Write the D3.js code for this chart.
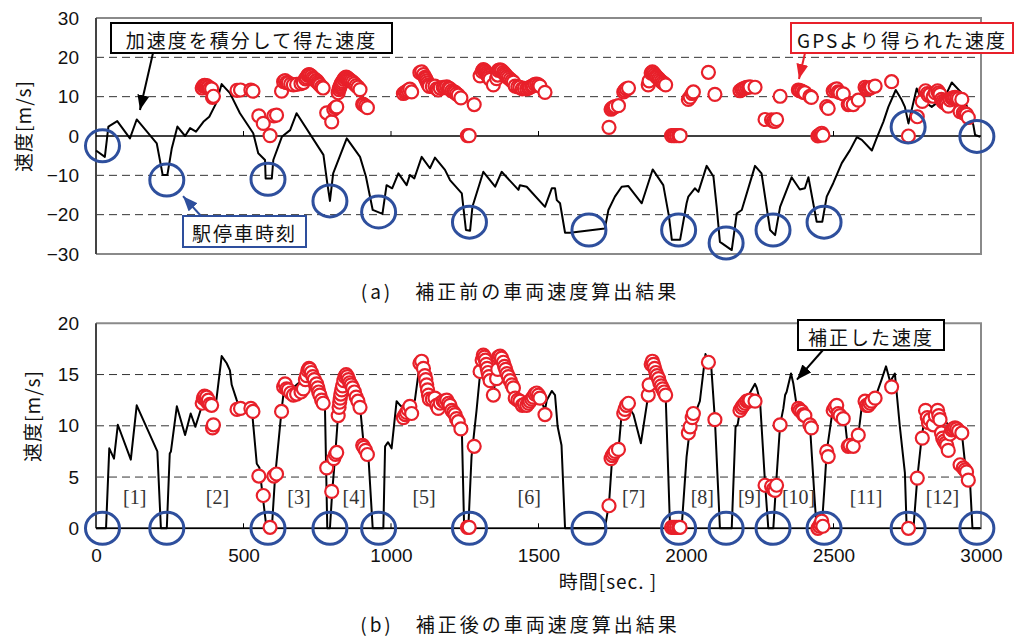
<!DOCTYPE html>
<html>
<head>
<meta charset="utf-8">
<script src="https://cdn.jsdelivr.net/npm/d3@7"></script>
<style>
  body { margin: 0; background: #fff; }
  svg { display: block; }
</style>
</head>
<body>
<div id="chart"></div>
<script>
// --- data ---
const timeTicks = [0, 500, 1000, 1500, 2000, 2500, 3000];
const speedTicksA = [-30, -20, -10, 0, 10, 20, 30];
const speedTicksB = [0, 5, 10, 15, 20];

// (a) speed obtained by integrating acceleration [t sec, v m/s]
const integratedSpeed = [
  [0,-3.7],[30,-5.3],[42,2.4],[72,3.8],[115,-0.6],[138,4.2],[206,-1.9],[226,-9.9],[242,-9.9],[257,-3.1],
  [276,2.4],[302,0],[319,2.0],[339,1.1],[364,3.6],[384,4.9],[407,8.3],[426,13.2],[454,10.9],[488,5.8],
  [533,0.7],[550,-4.4],[573,-6.1],[575,-10.8],[596,-10.8],[601,-6.1],[630,-0.2],[658,1.5],[680,5.8],[771,-4.8],
  [784,-12.0],[793,-16.5],[804,-9.5],[850,-0.6],[895,-5.3],[915,-10.3],[938,-18.8],[971,-19.8],[985,-12.5],[1004,-13.3],
  [1025,-9.5],[1053,-12.5],[1064,-9.9],[1079,-10.8],[1104,-5.3],[1132,-8.2],[1149,-5.5],[1183,-8.6],[1200,-11.2],[1240,-14.6],
  [1254,-23.9],[1268,-24.1],[1276,-18.0],[1313,-9.1],[1353,-12.9],[1375,-9.1],[1432,-13.7],[1437,-12.5],[1460,-12.9],[1522,-18.0],
  [1545,-13.3],[1556,-13.3],[1562,-16.3],[1573,-17.1],[1590,-24.6],[1607,-24.6],[1725,-23.5],[1737,-18.8],[1759,-15.4],[1782,-12.9],
  [1804,-12.7],[1850,-17.1],[1887,-8.5],[1923,-12.5],[1942,-20.3],[1952,-26.4],[1980,-26.4],[2002,-17.1],[2008,-15.4],[2030,-13.3],
  [2042,-14.2],[2070,-7.6],[2093,-10.3],[2104,-18.0],[2115,-26.9],[2155,-29.0],[2166,-23.1],[2172,-19.7],[2189,-18.8],[2234,-7.6],
  [2256,-9.5],[2285,-23.9],[2302,-25.2],[2319,-18.0],[2358,-10.5],[2386,-13.6],[2403,-13.3],[2415,-10.5],[2443,-21.8],[2462,-21.8],
  [2477,-15.4],[2499,-12.0],[2528,-6.9],[2556,-3.6],[2579,-0.3],[2596,-1.0],[2630,-3.7],[2646,-0.6],[2669,3.6],[2686,7.4],
  [2711,11.7],[2731,9.2],[2742,7.4],[2754,3.2],[2782,12.1],[2799,9.2],[2833,7.4],[2878,10.0],[2901,13.6],[2935,10.9],
  [2957,6.6],[2974,2.8],[2980,0.25],[2997,-0.2]
];

// (b) corrected speed
const correctedSpeed = [
  [0,0],[34,0],[45,7.8],[61,6.8],[74,10.1],[118,6.7],[138,12.0],[208,7.5],[220,0],[240,0],
  [250,7.3],[254,7.5],[274,11.9],[302,9.1],[321,11.2],[337,9.9],[353,11.4],[370,12.6],[395,12.0],[408,12.5],
  [426,16.8],[443,16.1],[454,15.4],[460,14.0],[477,12.5],[488,11.7],[528,11.7],[545,6.3],[554,5.9],[578,0],
  [596,0],[607,5.0],[629,11.5],[635,13.0],[680,14.0],[725,15.1],[750,14.0],[776,12.0],[784,0],[793,0],
  [801,3.7],[810,6.8],[821,11.2],[838,14.8],[855,14.5],[872,13.7],[895,11.9],[908,8.0],[923,7.2],[938,0],
  [974,0],[980,8.0],[990,8.4],[1002,7.8],[1019,12.4],[1031,12.0],[1050,11.5],[1081,12.5],[1093,15.1],[1098,16.1],
  [1115,14.6],[1130,12.8],[1160,11.9],[1200,12.0],[1228,10.5],[1240,9.8],[1248,0],[1262,0],[1273,7.0],[1290,11.5],
  [1302,15.1],[1307,16.9],[1330,15.5],[1347,13.0],[1364,16.7],[1390,15.3],[1415,13.8],[1437,12.4],[1460,12.0],[1482,12.8],
  [1505,12.8],[1522,11.5],[1528,12.5],[1545,13.4],[1556,13.0],[1565,9.9],[1578,8.1],[1590,0],[1725,0],[1739,2.4],
  [1750,7.0],[1771,7.6],[1782,11.2],[1793,12.4],[1822,11.1],[1847,8.3],[1872,13.0],[1884,16.2],[1900,15.5],[1920,14.0],
  [1931,13.0],[1946,0],[1985,0],[2002,7.0],[2014,9.9],[2031,11.2],[2047,12.4],[2066,17.0],[2086,15.6],[2098,10.6],
  [2115,0],[2155,0],[2168,9.9],[2175,10.1],[2183,11.5],[2234,14.1],[2240,13.7],[2251,12.4],[2268,4.4],[2279,0],
  [2296,0],[2304,3.7],[2319,10.1],[2330,11.7],[2336,13.0],[2341,13.3],[2356,15.1],[2364,14.1],[2375,12.0],[2420,10.1],
  [2437,2.4],[2443,0],[2460,0],[2471,4.7],[2477,7.5],[2494,10.9],[2505,11.8],[2539,10.4],[2547,8.3],[2567,8.1],
  [2584,9.1],[2596,11.9],[2641,12.7],[2663,14.5],[2678,15.8],[2692,14.3],[2708,15.1],[2725,9.9],[2742,5.4],[2748,0],
  [2771,0],[2784,4.9],[2799,8.9],[2808,10.6],[2853,11.5],[2901,9.6],[2935,9.3],[2946,6.3],[2963,4.4],[2971,0],[2997,0]
];

// GPS speed (same points in both panels)
const gpsSpeed = [
  [360,12.2],[364,12.7],[368,12.9],[372,12.6],[375,12.8],[378,12.3],[381,12.5],[386,12.1],[392,12.0],[395,9.8],[398,10.1],
  [478,11.6],[490,11.7],[525,11.7],[532,11.4],[552,5.1],[567,3.2],[590,0.1],[603,5.1],[612,5.3],
  [629,11.4],[636,13.8],[641,14.1],[646,13.6],[652,13.5],[660,13.2],[669,13.0],[680,13.1],[695,13.3],[703,13.6],
  [710,14.5],[714,14.9],[718,15.4],[722,15.6],[725,15.5],[730,15.2],[735,14.8],[740,14.5],[745,14.0],[748,14.1],
  [752,13.7],[755,13.3],[759,13.0],[765,12.5],[770,12.2],[782,5.9],[799,3.6],[806,6.8],[812,7.2],[816,7.4],
  [821,11.0],[824,11.8],[826,12.3],[828,12.7],[830,13.1],[833,13.5],[836,13.9],[840,14.4],[844,14.8],[848,15.0],
  [852,14.8],[856,14.5],[860,14.2],[865,14.0],[870,13.7],[876,13.3],[882,12.8],[888,12.4],[895,11.8],[904,8.1],
  [908,7.9],[914,7.6],[920,7.2],
  [1042,10.8],[1048,11.1],[1053,11.3],[1058,11.6],[1064,11.9],[1070,11.2],[1098,16.1],[1104,16.3],[1110,15.6],[1115,14.9],
  [1118,14.5],[1121,14.0],[1124,13.5],[1127,13.0],[1130,12.6],[1140,12.6],[1149,12.7],[1155,12.0],[1160,11.7],[1167,12.2],
  [1177,12.4],[1183,12.3],[1189,12.5],[1195,12.2],[1200,12.0],[1206,11.5],[1212,11.3],[1217,11.1],[1222,10.7],[1228,10.4],
  [1237,9.7],[1259,0.1],[1265,0.1],[1282,8.0],
  [1302,15.3],[1309,16.4],[1313,16.9],[1317,16.7],[1320,16.4],[1323,16.0],[1326,15.6],[1329,15.2],[1332,14.8],[1336,14.4],
  [1347,13.0],[1358,14.6],[1362,15.5],[1364,16.7],[1370,16.8],[1375,16.6],[1381,16.2],[1385,15.8],[1389,15.5],[1393,15.1],
  [1398,14.8],[1404,14.4],[1410,14.0],[1415,13.7],[1421,12.7],[1430,12.5],[1437,12.4],[1445,12.0],[1452,12.1],[1460,12.0],
  [1466,12.2],[1471,12.4],[1477,12.6],[1482,12.8],[1488,13.1],[1494,13.2],[1500,13.0],[1505,12.7],[1522,11.1],
  [1739,2.2],[1746,6.8],[1750,7.1],[1755,7.3],[1760,7.5],[1771,7.7],[1789,11.2],[1793,11.6],[1798,12.0],[1805,12.2],
  [1872,13.0],[1875,14.0],[1882,16.0],[1886,16.3],[1890,16.0],[1894,15.6],[1898,15.2],[1902,14.9],[1907,14.6],[1911,14.2],
  [1916,13.9],[1921,13.6],[1926,13.3],[1931,13.0],
  [1951,0.1],[1957,0.1],[1962,0.1],[1968,0.1],[1975,0.1],[1980,0.1],[2008,9.3],[2014,9.9],[2021,10.8],[2025,11.2],
  [2076,16.2],[2098,10.6],
  [2183,11.5],[2189,11.8],[2194,12.0],[2200,12.2],[2206,12.4],[2212,12.4],[2217,12.5],[2234,12.4],[2268,4.2],[2290,4.1],
  [2296,3.8],[2302,3.7],[2307,4.2],[2319,10.1],
  [2381,11.7],[2386,11.5],[2392,11.4],[2398,11.1],[2403,11.0],[2420,10.1],[2425,9.8],
  [2447,0.0],[2452,0.2],[2456,0.4],[2460,0.7],[2464,0.2],
  [2477,7.5],[2482,7.0],[2499,11.5],[2505,11.8],[2511,12.0],[2516,11.2],[2522,11.0],[2533,10.7],[2550,8.0],[2556,8.1],
  [2567,8.0],[2584,9.1],[2607,12.4],[2612,12.0],[2618,12.0],[2624,12.2],[2629,12.4],[2641,12.7],[2697,13.8],
  [2754,0.0],[2784,4.9],[2801,8.8],[2812,11.5],[2818,10.8],[2822,10.3],[2827,10.6],[2838,10.1],[2845,11.0],[2853,11.5],
  [2857,11.0],[2861,10.6],[2866,9.3],[2870,8.8],[2875,8.5],[2880,8.3],[2884,8.1],[2889,7.6],[2895,9.2],[2901,9.6],
  [2906,9.7],[2912,9.8],[2918,9.7],[2924,9.5],[2929,6.2],[2935,9.3],[2940,5.9],[2946,5.7],[2951,5.5],[2957,4.7]
];

// station stop times and the (a) speed at those times
const stopTimes = [22, 240, 583, 793, 958, 1266, 1671, 1975, 2136, 2295, 2468, 2753, 2986];
const stopSpeedA = [-2.5, -11.2, -11.0, -16.5, -19.3, -21.9, -23.9, -23.9, -27.2, -23.9, -21.9, 2.3, -0.1];
const sectionLabels = ['[1]','[2]','[3]','[4]','[5]','[6]','[7]','[8]','[9]','[10]','[11]','[12]'];

const captionA = '(a)\u3000補正前の車両速度算出結果';
const captionB = '(b)\u3000補正後の車両速度算出結果';
const yTitle = '速度[m/s]';
const xTitle = '時間[sec. ]';

// --- layout ---
const W = 1014, H = 641;
const RED = '#e8202a', BLUE = '#2e4f9d';
const JP = '"Noto Sans CJK JP", "Noto Sans", sans-serif';
const NUM = '"Liberation Sans", Arial, sans-serif';

const svg = d3.select('#chart').append('svg')
  .attr('width', W).attr('height', H);

const x = d3.scaleLinear().domain([0, 3000]).range([96, 981]);
const yA = d3.scaleLinear().domain([-30, 30]).range([254, 18]);
const yB = d3.scaleLinear().domain([0, 20]).range([528.3, 323.3]);

// arrow markers
const defs = svg.append('defs');
[['arrBlack', '#000'], ['arrBlue', BLUE], ['arrRed', RED]].forEach(function (m) {
  defs.append('marker')
    .attr('id', m[0]).attr('markerUnits', 'userSpaceOnUse')
    .attr('markerWidth', 16).attr('markerHeight', 12)
    .attr('refX', 15).attr('refY', 6).attr('orient', 'auto')
    .append('path').attr('d', 'M0,0 L15,6 L0,12 Z').attr('fill', m[1]);
});

function drawPanel(y, ticks, gridVals) {
  const g = svg.append('g');
  const [r0, r1] = y.range();
  // dashed grid
  g.selectAll('.grid').data(gridVals).enter().append('line')
    .attr('x1', x(0)).attr('x2', x(3000))
    .attr('y1', d => y(d)).attr('y2', d => y(d))
    .attr('stroke', '#333').attr('stroke-width', 1).attr('stroke-dasharray', '8,5');
  // frame (grey top / right / bottom, dark left)
  g.append('path')
    .attr('d', `M${x(0)},${r1}H${x(3000)}V${r0}H${x(0)}`)
    .attr('fill', 'none').attr('stroke', '#8a8a8a').attr('stroke-width', 2);
  g.append('line').attr('x1', x(0)).attr('x2', x(0)).attr('y1', r1).attr('y2', r0)
    .attr('stroke', '#444').attr('stroke-width', 2);
  // zero line with small upward ticks
  g.append('line').attr('x1', x(0)).attr('x2', x(3000)).attr('y1', y(0)).attr('y2', y(0))
    .attr('stroke', '#000').attr('stroke-width', 1.5);
  g.selectAll('.xt').data(timeTicks.slice(1, -1)).enter().append('line')
    .attr('x1', d => x(d)).attr('x2', d => x(d))
    .attr('y1', y(0)).attr('y2', y(0) - 5)
    .attr('stroke', '#000').attr('stroke-width', 1);
  // y tick labels
  const ax = g.append('g').attr('transform', `translate(${x(0)},0)`)
    .call(d3.axisLeft(y).tickValues(ticks).tickSize(0).tickPadding(17));
  ax.select('.domain').remove();
  ax.selectAll('text').attr('font-family', NUM).attr('font-size', 19).attr('fill', '#111');
  return g;
}

const line = yScale => d3.line().x(d => x(d[0])).y(d => yScale(d[1]));

// ---------- panel (a) ----------
drawPanel(yA, speedTicksA, [-20, -10, 10, 20]);

svg.append('path').datum(integratedSpeed)
  .attr('d', line(yA)).attr('fill', 'none')
  .attr('stroke', '#000').attr('stroke-width', 2).attr('stroke-linejoin', 'round');

svg.append('g').selectAll('circle').data(gpsSpeed).enter().append('circle')
  .attr('cx', d => x(d[0])).attr('cy', d => yA(d[1])).attr('r', 6.5)
  .attr('fill', '#fff').attr('stroke', RED).attr('stroke-width', 2.2);

svg.append('g').selectAll('ellipse').data(stopTimes).enter().append('ellipse')
  .attr('cx', d => x(d)).attr('cy', (d, i) => yA(stopSpeedA[i]))
  .attr('rx', 17).attr('ry', 16)
  .attr('fill', 'none').attr('stroke', BLUE).attr('stroke-width', 3);

// ---------- panel (b) ----------
drawPanel(yB, speedTicksB, [5, 10, 15]);

const axB = svg.append('g').attr('transform', `translate(0,${yB(0)})`)
  .call(d3.axisBottom(x).tickValues(timeTicks).tickSize(0).tickPadding(20)
    .tickFormat(d3.format('d')));
axB.select('.domain').remove();
axB.selectAll('text').attr('font-family', NUM).attr('font-size', 19).attr('fill', '#111');

svg.append('path').datum(correctedSpeed)
  .attr('d', line(yB)).attr('fill', 'none')
  .attr('stroke', '#000').attr('stroke-width', 2).attr('stroke-linejoin', 'round');

svg.append('g').selectAll('circle').data(gpsSpeed).enter().append('circle')
  .attr('cx', d => x(d[0])).attr('cy', d => yB(d[1])).attr('r', 6.5)
  .attr('fill', '#fff').attr('stroke', RED).attr('stroke-width', 2.2);

svg.append('g').selectAll('ellipse').data(stopTimes).enter().append('ellipse')
  .attr('cx', d => x(d)).attr('cy', yB(0))
  .attr('rx', 17).attr('ry', 16)
  .attr('fill', 'none').attr('stroke', BLUE).attr('stroke-width', 3);

// section numbers between consecutive stops
svg.append('g').selectAll('text').data(sectionLabels).enter().append('text')
  .attr('x', (d, i) => x((stopTimes[i] + stopTimes[i + 1]) / 2))
  .attr('y', 504)
  .attr('text-anchor', 'middle')
  .attr('font-family', '"Liberation Serif", "Times New Roman", serif')
  .attr('font-size', 20).attr('fill', '#333')
  .text(d => d);

// ---------- titles ----------
function jpText(tx, ty, str, opts) {
  opts = opts || {};
  return svg.append('text')
    .attr('x', tx).attr('y', ty)
    .attr('text-anchor', 'middle').attr('dominant-baseline', 'central')
    .attr('font-family', JP).attr('font-size', opts.size || 19)
    .attr('letter-spacing', opts.ls == null ? 2 : opts.ls)
    .attr('fill', '#111')
    .attr('transform', opts.rot ? `rotate(-90,${tx},${ty})` : null)
    .text(str);
}

jpText(22, 126, yTitle, { rot: true, ls: 1 });
jpText(31, 416, yTitle, { rot: true, ls: 1 });
jpText(608, 580, xTitle, { ls: 1 });
jpText(520, 290, captionA, { ls: 3 });
jpText(520, 623, captionB, { ls: 3 });

// ---------- annotations ----------
function callout(bx, by, bw, bh, color, label, from, to, marker) {
  svg.append('line')
    .attr('x1', from[0]).attr('y1', from[1]).attr('x2', to[0]).attr('y2', to[1])
    .attr('stroke', color)
    .attr('stroke-width', 2).attr('marker-end', `url(#${marker})`);
  svg.append('rect').attr('x', bx).attr('y', by).attr('width', bw).attr('height', bh)
    .attr('fill', '#fff').attr('stroke', color).attr('stroke-width', 2);
  jpText(bx + bw / 2, by + bh / 2 + 1, label, { ls: 2 });
}

callout(111, 23, 281, 30, '#000', '加速度を積分して得た速度',
  [153, 53], [x(149), yA(6.6)], 'arrBlack');
callout(791, 23, 222, 30, RED, 'GPSより得られた速度',
  [805, 53], [x(2383), yA(14.5)], 'arrRed');
callout(183, 216, 123, 31, BLUE, '駅停車時刻',
  [201, 216], [x(295), yA(-15.3)], 'arrBlue');
callout(798, 320, 146, 30, '#000', '補正した速度',
  [823, 350], [x(2376), yB(14.5)], 'arrBlack');
</script>
</body>
</html>
